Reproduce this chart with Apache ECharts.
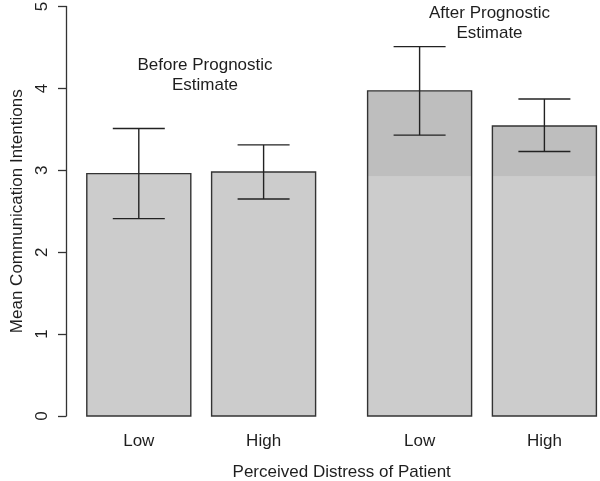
<!DOCTYPE html>
<html><head><meta charset="utf-8">
<script src="https://cdn.jsdelivr.net/npm/echarts@6/dist/echarts.min.js"></script>
<style>html,body{margin:0;padding:0;background:#fff}#c{width:600px;height:481px}</style>
</head><body><div id="c"></div>
<script>
const categories = ['Low', 'High', 'Low', 'High'];
const barCenters = [0.7, 1.9, 3.4, 4.6];
const means = [2.96, 2.98, 3.97, 3.54];
const ciLow = [2.41, 2.65, 3.43, 3.23];
const ciHigh = [3.51, 3.31, 4.51, 3.87];
const beforeLevel = [null, null, 2.92, 2.92];
const yTicks = [0, 1, 2, 3, 4, 5];
const annotations = ['Before Prognostic\nEstimate', 'After Prognostic\nEstimate'];

const FONT = "'Liberation Sans', Arial, sans-serif";
const TXT = '#1e1e1e';
const chart = echarts.init(document.getElementById('c'), null, {renderer: 'canvas'});

const data = means.map((m, i) => [barCenters[i], m, ciLow[i], ciHigh[i], beforeLevel[i] == null ? m : beforeLevel[i]]);

function renderItem(params, api) {
  const c = api.value(0), m = api.value(1), lo = api.value(2), hi = api.value(3), b = api.value(4);
  const half = 0.5, cap = 0.25;
  const pL = api.coord([c - half, 0]);
  const pR = api.coord([c + half, m]);
  const pb = api.coord([c, Math.min(b, m)]);
  const x = pL[0], w = pR[0] - pL[0];
  const yBase = pL[1], yTop = pR[1];
  const children = [];
  children.push({type: 'rect', shape: {x: x, y: pb[1], width: w, height: yBase - pb[1]}, style: {fill: '#cccccc'}});
  if (pb[1] > yTop) {
    children.push({type: 'rect', shape: {x: x, y: yTop, width: w, height: pb[1] - yTop}, style: {fill: '#bebebe'}});
  }
  children.push({type: 'rect', shape: {x: x, y: yTop, width: w, height: yBase - yTop}, style: {fill: 'none', stroke: '#333333', lineWidth: 1.4}});
  const eLo = api.coord([c, lo]), eHi = api.coord([c, hi]);
  const cl = api.coord([c - cap, lo]), cr = api.coord([c + cap, lo]);
  const ls = {stroke: '#222222', lineWidth: 1.4};
  children.push({type: 'line', shape: {x1: eLo[0], y1: eLo[1], x2: eHi[0], y2: eHi[1]}, style: ls});
  children.push({type: 'line', shape: {x1: cl[0], y1: eLo[1], x2: cr[0], y2: eLo[1]}, style: ls});
  children.push({type: 'line', shape: {x1: cl[0], y1: eHi[1], x2: cr[0], y2: eHi[1]}, style: ls});
  return {type: 'group', children: children};
}

chart.setOption({
  animation: false,
  backgroundColor: '#ffffff',
  textStyle: {fontFamily: FONT},
  grid: {left: 66, top: 6.5, width: 530.4, height: 409.5, containLabel: false, outerBoundsMode: 'none'},
  xAxis: {
    type: 'value', min: 0, max: 5.1,
    axisLine: {show: false}, axisTick: {show: false}, splitLine: {show: false},
    axisLabel: {
      customValues: barCenters,
      formatter: function (v) {
        let best = 0;
        barCenters.forEach((c, i) => { if (Math.abs(c - v) < Math.abs(barCenters[best] - v)) best = i; });
        return categories[best];
      },
      color: TXT, fontSize: 17, fontFamily: FONT, margin: 17
    },
    name: 'Perceived Distress of Patient', nameLocation: 'middle', nameGap: 48,
    nameTextStyle: {color: TXT, fontSize: 17, fontFamily: FONT, padding: [0, 0, 0, 21]}
  },
  yAxis: {
    type: 'value', min: 0, max: 5, interval: 1,
    axisLine: {show: true, lineStyle: {color: '#333333', width: 1.3}},
    axisTick: {show: true, length: 8, lineStyle: {color: '#333333', width: 1.3}},
    splitLine: {show: false},
    axisLabel: {
      customValues: yTicks,
      rotate: 90, color: TXT, fontSize: 17, fontFamily: FONT, margin: 15
    },
    name: 'Mean Communication Intentions', nameLocation: 'middle', nameGap: 37,
    nameTextStyle: {color: TXT, fontSize: 17, fontFamily: FONT}
  },
  graphic: [
    {type: 'text', style: {text: annotations[0], fill: TXT, font: '17px ' + FONT, align: 'center', lineHeight: 20}, position: [205, 55]},
    {type: 'text', style: {text: annotations[1], fill: TXT, font: '17px ' + FONT, align: 'center', lineHeight: 20}, position: [489.5, 3]}
  ],
  series: [{
    type: 'custom',
    renderItem: renderItem,
    data: data,
    encode: {x: 0, y: 1},
    clip: false
  }]
});
</script>
</body></html>
